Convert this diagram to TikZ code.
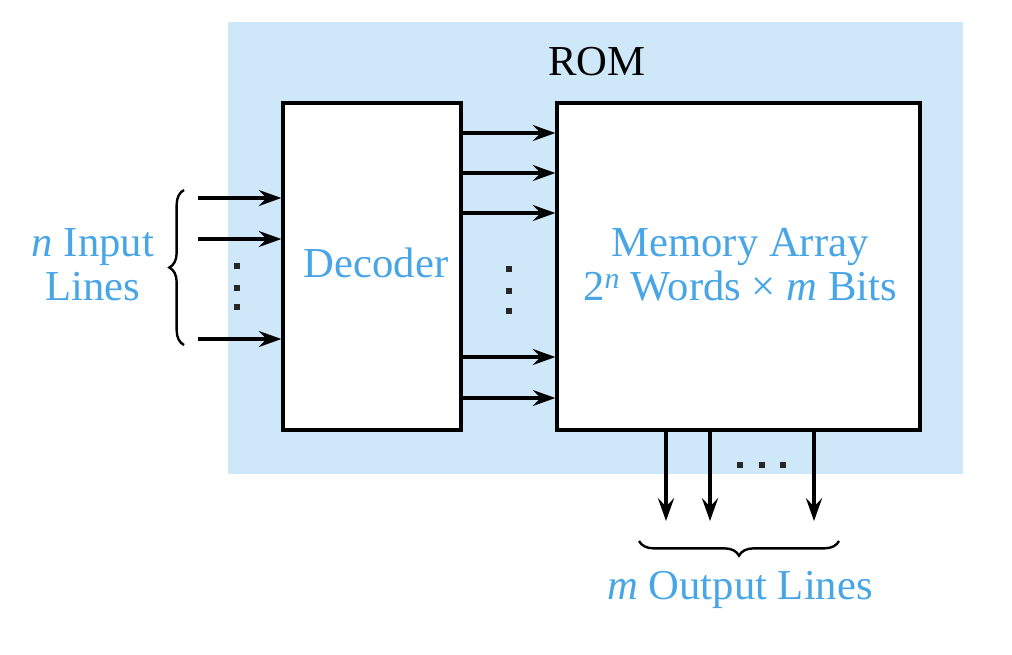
\documentclass[tikz,border=0pt]{standalone}
\usepackage{fontspec}
\setmainfont{Liberation Serif}
\usetikzlibrary{arrows.meta,decorations.pathreplacing,calc}
\definecolor{bgblue}{RGB}{207,232,249}
\definecolor{txtblue}{RGB}{72,165,230}
\begin{document}
\begin{tikzpicture}[x=0.75pt,y=-0.75pt,
  box/.style={draw=black,line width=2.4pt,fill=white,inner sep=0pt},
  arr/.style={line width=2.6pt,-{Stealth[length=17pt,width=12pt,inset=6pt]}},
  lbl/.style={text=txtblue,font=\fontsize{32}{33}\selectfont,align=center,inner sep=0pt},
  brc/.style={line width=1.8pt,decorate,decoration={brace,amplitude=11pt}},
  dot/.style={fill=black!85,inner sep=0pt,minimum size=4.4pt,draw=none}]
\useasboundingbox (0,0) rectangle (1012,654);
\fill[bgblue] (228,22) rectangle (963,474);
\node[font=\fontsize{32}{33}\selectfont] (rom) at (597,62) {ROM};
\node[box,minimum width=133.5pt,minimum height=245.25pt] (dec) at (372,266.5) {};
\node[box,minimum width=272.25pt,minimum height=245.25pt] (mem) at (738.5,266.5) {};
\node[lbl] (dectxt) at (376,263) {Decoder};
\node[lbl] (memtxt) at (740,265) {Memory Array\\2\textsuperscript{\itshape n} Words \texttimes\ \textit{m} Bits};
% inputs
\foreach \y/\n in {198/a,239/b,339/c}{
  \coordinate (in\n) at (198,\y);
  \draw[arr] (in\n) -- (dec.west |- in\n);
}
\foreach \y in {266,288,307}{ \node[dot] at (237,\y) {}; }
% middle
\foreach \y in {133,173,213,357,398}{
  \draw[arr] (dec.east |- 0,\y) -- (mem.west |- 0,\y);
}
\foreach \y in {269,291,311}{ \node[dot] at (509,\y) {}; }
% outputs
\foreach \x/\n in {666/a,710/b,814/c}{
  \coordinate (out\n) at (\x,521);
  \draw[arr] (mem.south -| out\n) -- (out\n);
}
\foreach \x in {740,762,783}{ \node[dot] at (\x,465) {}; }
% braces
\coordinate (b1) at (184,345);
\coordinate (b2) at (184,190);
\draw[brc] (b1) -- (b2);
\coordinate (b3) at (839,541);
\coordinate (b4) at (639,541);
\draw[brc] (b3) -- (b4);
\node[lbl] (inlbl) at (93,265) {\textit{n} Input\\Lines};
\node[lbl] (outlbl) at (740,590) {\textit{m} Output Lines};
\end{tikzpicture}
\end{document}
